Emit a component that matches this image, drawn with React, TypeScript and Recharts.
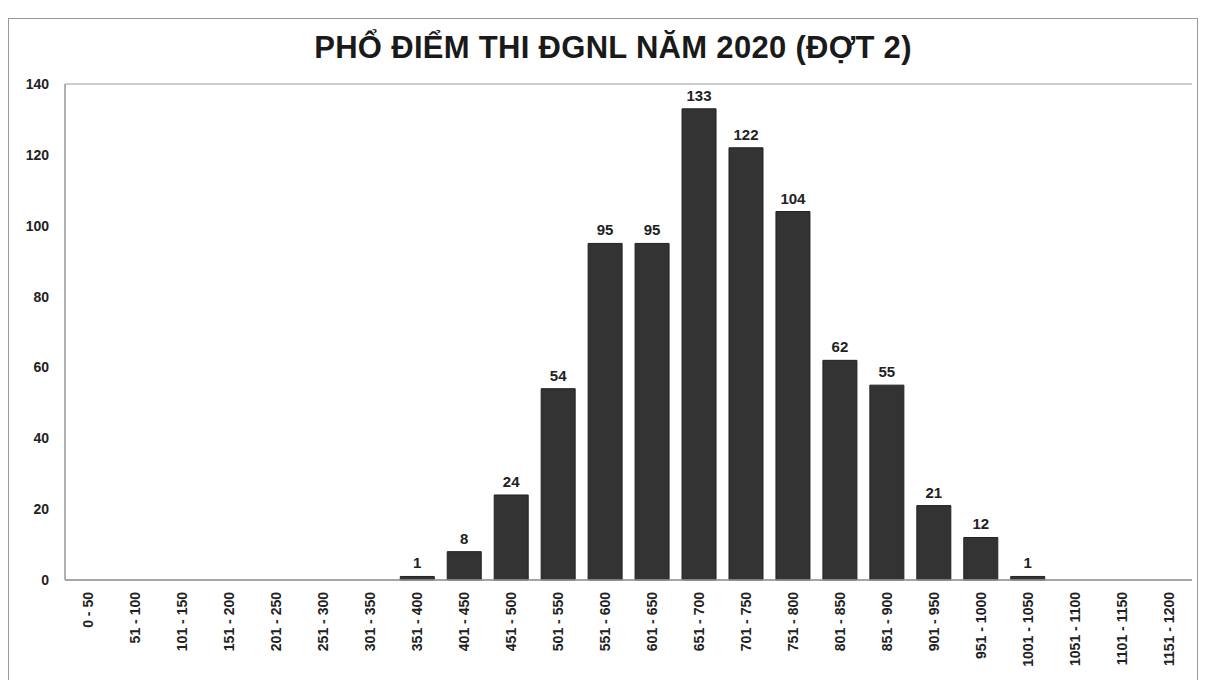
import { BarChart, Bar, XAxis, YAxis, CartesianGrid, LabelList } from "recharts";

const bins = [
  "0 - 50", "51 - 100", "101 - 150", "151 - 200", "201 - 250", "251 - 300",
  "301 - 350", "351 - 400", "401 - 450", "451 - 500", "501 - 550", "551 - 600",
  "601 - 650", "651 - 700", "701 - 750", "751 - 800", "801 - 850", "851 - 900",
  "901 - 950", "951 - 1000", "1001 - 1050", "1051 - 1100", "1101 - 1150", "1151 - 1200",
];
const counts = [0, 0, 0, 0, 0, 0, 0, 1, 8, 24, 54, 95, 95, 133, 122, 104, 62, 55, 21, 12, 1, 0, 0, 0];
const yTicks = [0, 20, 40, 60, 80, 100, 120, 140];

const data = bins.map((bin, i) => ({ bin, count: counts[i] }));

const FONT = "'Liberation Sans', Arial, sans-serif";

function XTick({ x, y, payload }: { x?: number; y?: number; payload?: { value: string } }) {
  return (
    <g transform={`translate(${x},${(y ?? 0) + 4})`}>
      <text
        transform="rotate(-90)"
        textAnchor="end"
        dy={5}
        fontSize={14}
        fontWeight={700}
        fill="#222"
        fontFamily={FONT}
      >
        {payload?.value}
      </text>
    </g>
  );
}

export default function App() {
  return (
    <div style={{ position: "absolute", left: 0, top: 0, width: 1206, height: 680, background: "#fff", fontFamily: FONT }}>
      <div
        style={{
          position: "absolute",
          left: 8,
          top: 18,
          width: 1190,
          height: 680,
          border: "1.5px solid #999",
          boxSizing: "border-box",
        }}
      />
      <div
        style={{
          position: "absolute",
          left: 0,
          top: 30,
          width: 1226,
          textAlign: "center",
          fontSize: 31,
          fontWeight: 700,
          letterSpacing: 0.3,
          color: "#1a1a1a",
        }}
      >
        PHỔ ĐIỂM THI ĐGNL NĂM 2020 (ĐỢT 2)
      </div>
      <div style={{ position: "absolute", left: 0, top: 0 }}>
        <BarChart
          width={1206}
          height={680}
          data={data}
          margin={{ top: 84, right: 14, left: 15, bottom: 0 }}
          barCategoryGap="14%"
        >
          <CartesianGrid vertical={false} stroke="#999" strokeWidth={1.2} />
          <XAxis
            dataKey="bin"
            interval={0}
            height={100}
            tickLine={false}
            axisLine={{ stroke: "#999", strokeWidth: 1.5 }}
            tick={<XTick />}
          />
          <YAxis
            yAxisId="left"
            domain={[0, 140]}
            ticks={yTicks}
            width={50}
            tickLine={false}
            axisLine={{ stroke: "#999", strokeWidth: 1.5 }}
            tick={{ fontSize: 14, fontWeight: 700, fill: "#222", fontFamily: FONT }}
            tickMargin={10}
          />
          <YAxis
            yAxisId="right"
            orientation="right"
            domain={[0, 140]}
            width={0}
            tick={false}
            tickLine={false}
            axisLine={{ stroke: "#999", strokeWidth: 1.5 }}
          />
          <Bar yAxisId="left" dataKey="count" fill="#333" stroke="#222" isAnimationActive={false}>
            <LabelList
              dataKey="count"
              position="top"
              offset={8}
              formatter={(v: unknown) => (Number(v) > 0 ? String(v) : "")}
              style={{ fontSize: 15, fontWeight: 700, fill: "#222", fontFamily: FONT }}
            />
          </Bar>
        </BarChart>
      </div>
    </div>
  );
}
